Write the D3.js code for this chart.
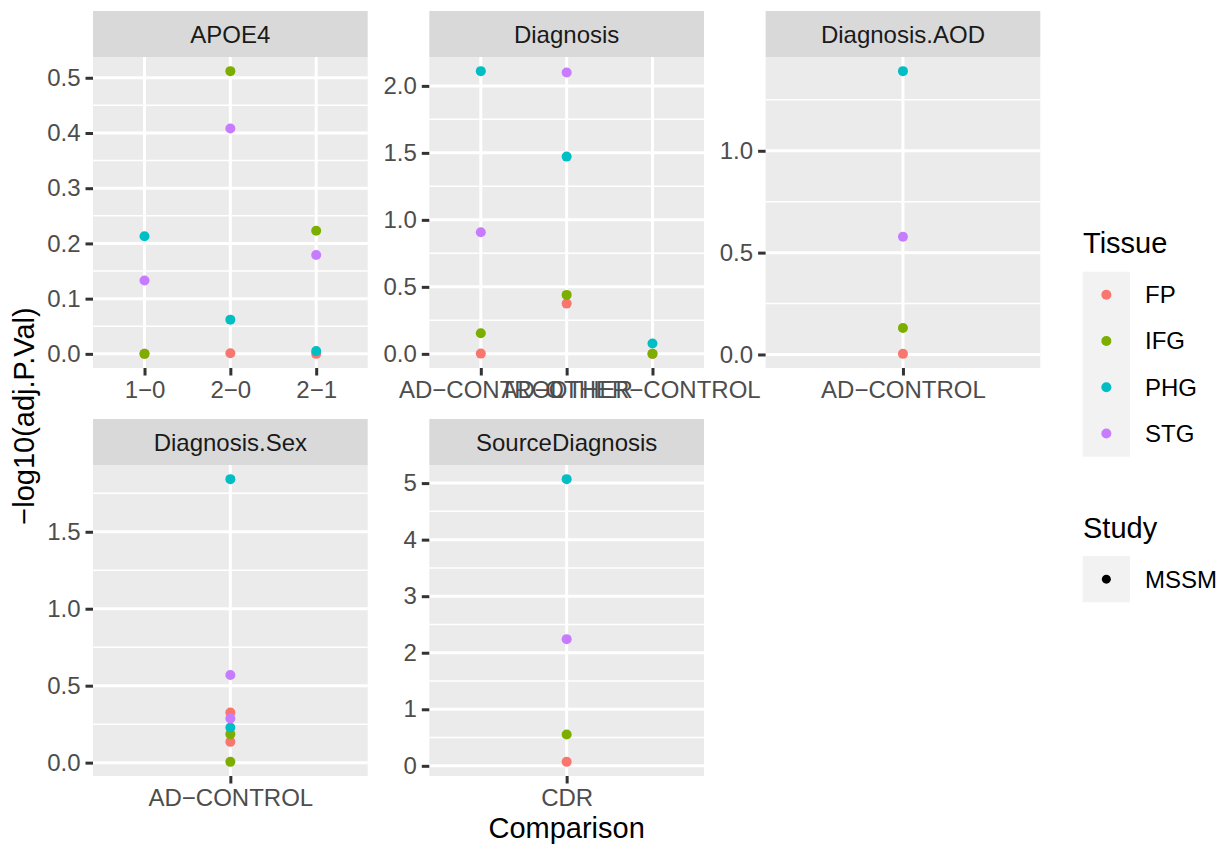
<!DOCTYPE html>
<html>
<head>
<meta charset="utf-8">
<script src="https://cdn.jsdelivr.net/npm/d3@7"></script>
<style>
  body { margin: 0; background: #fff; }
  svg { display: block; font-family: "Liberation Sans", Arial, sans-serif; }
</style>
</head>
<body>
<svg width="1221" height="844"></svg>
<script>
// tissues + colours (ggplot default hue palette)
const tissues = ['FP', 'IFG', 'PHG', 'STG'];
const tissueColors = ['#F8766D', '#7CAE00', '#00BFC4', '#C77CFF'];
const studies = ['MSSM'];

const facets = ['APOE4', 'Diagnosis', 'Diagnosis.AOD', 'Diagnosis.Sex', 'SourceDiagnosis'];

// comparisons per facet
const apoe4Comparisons = ['1−0', '2−0', '2−1'];
const diagnosisComparisons = ['AD−CONTROL', 'AD−OTHER', 'OTHER−CONTROL'];
const aodComparisons = ['AD−CONTROL'];
const sexComparisons = ['AD−CONTROL'];
const sourceComparisons = ['CDR'];

// y tick labels per facet
const apoe4Ticks = ['0.0', '0.1', '0.2', '0.3', '0.4', '0.5'];
const diagnosisTicks = ['0.0', '0.5', '1.0', '1.5', '2.0'];
const aodTicks = ['0.0', '0.5', '1.0'];
const sexTicks = ['0.0', '0.5', '1.0', '1.5'];
const sourceTicks = ['0', '1', '2', '3', '4', '5'];

// [comparison, tissue, -log10(adj.P.Val)]
const apoe4Points = [
    ['1−0', 'FP', 0.0], ['1−0', 'IFG', 0.0], ['1−0', 'PHG', 0.213], ['1−0', 'STG', 0.133],
    ['2−0', 'FP', 0.001], ['2−0', 'IFG', 0.512], ['2−0', 'PHG', 0.062], ['2−0', 'STG', 0.408],
    ['2−1', 'FP', 0.0], ['2−1', 'IFG', 0.223], ['2−1', 'PHG', 0.005], ['2−1', 'STG', 0.179],
];
const diagnosisPoints = [
    ['AD−CONTROL', 'FP', 0.002], ['AD−CONTROL', 'IFG', 0.154], ['AD−CONTROL', 'PHG', 2.11], ['AD−CONTROL', 'STG', 0.908],
    ['AD−OTHER', 'FP', 0.375], ['AD−OTHER', 'IFG', 0.44], ['AD−OTHER', 'PHG', 1.472], ['AD−OTHER', 'STG', 2.10],
    ['OTHER−CONTROL', 'FP', 0.0], ['OTHER−CONTROL', 'PHG', 0.077], ['OTHER−CONTROL', 'IFG', 0.0],
];
const aodPoints = [
    ['AD−CONTROL', 'FP', 0.003], ['AD−CONTROL', 'IFG', 0.13], ['AD−CONTROL', 'PHG', 1.391], ['AD−CONTROL', 'STG', 0.578],
];
const sexPoints = [
    ['AD−CONTROL', 'FP', 0.135], ['AD−CONTROL', 'IFG', 0.005], ['AD−CONTROL', 'PHG', 1.842], ['AD−CONTROL', 'STG', 0.569],
    ['AD−CONTROL', 'IFG', 0.185], ['AD−CONTROL', 'PHG', 0.228], ['AD−CONTROL', 'FP', 0.326], ['AD−CONTROL', 'STG', 0.287],
];
const sourcePoints = [
    ['CDR', 'FP', 0.07], ['CDR', 'IFG', 0.554], ['CDR', 'PHG', 5.07], ['CDR', 'STG', 2.24],
];

const facetComparisons = [apoe4Comparisons, diagnosisComparisons, aodComparisons, sexComparisons, sourceComparisons];
const facetTicks = [apoe4Ticks, diagnosisTicks, aodTicks, sexTicks, sourceTicks];
const facetPoints = [apoe4Points, diagnosisPoints, aodPoints, sexPoints, sourcePoints];

const svg = d3.select('svg');
const color = d3.scaleOrdinal().domain(tissues).range(tissueColors);

// layout
const panelW = 274.7, panelH = 311, stripH = 46;
const colLeft = [93, 429.3, 765.6];
const rowTop = [57, 465];
const tickFont = 24, titleFont = 29;

facets.forEach((name, i) => {
    const left = colLeft[i % 3];
    const top = rowTop[Math.floor(i / 3)];
    const pts = facetPoints[i];
    const ticks = facetTicks[i].map(Number);

    const ext = d3.extent(pts, (d) => d[2]);
    const pad = (ext[1] - ext[0]) * 0.05;
    const y = d3.scaleLinear().domain([ext[0] - pad, ext[1] + pad]).range([top + panelH, top]);
    const x = d3.scalePoint().domain(facetComparisons[i]).range([left, left + panelW]).padding(0.6);

    const g = svg.append('g');

    // panel background
    g.append('rect')
        .attr('x', left).attr('y', top)
        .attr('width', panelW).attr('height', panelH)
        .attr('fill', '#EBEBEB');

    // minor grid
    const step = ticks[1] - ticks[0];
    const minor = d3.range(ticks[0] - step / 2, ticks[ticks.length - 1] + step, step)
        .filter((v) => v > y.domain()[0] && v < y.domain()[1]);
    g.selectAll('.minor').data(minor).join('line')
        .attr('x1', left).attr('x2', left + panelW)
        .attr('y1', (d) => y(d)).attr('y2', (d) => y(d))
        .attr('stroke', '#fff').attr('stroke-width', 1.5);

    // major grid
    g.selectAll('.hmajor').data(ticks).join('line')
        .attr('x1', left).attr('x2', left + panelW)
        .attr('y1', (d) => y(d)).attr('y2', (d) => y(d))
        .attr('stroke', '#fff').attr('stroke-width', 3);
    g.selectAll('.vmajor').data(x.domain()).join('line')
        .attr('x1', (d) => x(d)).attr('x2', (d) => x(d))
        .attr('y1', top).attr('y2', top + panelH)
        .attr('stroke', '#fff').attr('stroke-width', 3);

    // strip
    g.append('rect')
        .attr('x', left).attr('y', top - stripH)
        .attr('width', panelW).attr('height', stripH)
        .attr('fill', '#D9D9D9');
    g.append('text')
        .attr('x', left + panelW / 2).attr('y', top - stripH / 2 + 8.5)
        .attr('text-anchor', 'middle')
        .attr('font-size', tickFont).attr('fill', '#1A1A1A')
        .text(name);

    // axes
    const yAxis = d3.axisLeft(y).tickValues(ticks)
        .tickFormat((d, k) => facetTicks[i][k]).tickSize(7.5).tickPadding(5);
    const ya = g.append('g').attr('transform', `translate(${left},0)`).call(yAxis);
    const xAxis = d3.axisBottom(x).tickSize(7.5).tickPadding(5);
    const xa = g.append('g').attr('transform', `translate(0,${top + panelH})`).call(xAxis);
    [ya, xa].forEach((a) => {
        a.select('.domain').remove();
        a.selectAll('.tick line').attr('stroke', '#333333').attr('stroke-width', 3);
        a.selectAll('.tick text')
            .attr('fill', '#4D4D4D')
            .attr('font-size', tickFont)
            .attr('font-family', '"Liberation Sans", Arial, sans-serif');
    });

    // points
    g.selectAll('.pt').data(pts).join('circle')
        .attr('cx', (d) => x(d[0]))
        .attr('cy', (d) => y(d[2]))
        .attr('r', 5)
        .attr('fill', (d) => color(d[1]));
});

// axis titles
svg.append('text')
    .attr('x', colLeft[0] + (colLeft[2] + panelW - colLeft[0]) / 2)
    .attr('y', 838)
    .attr('text-anchor', 'middle')
    .attr('font-size', titleFont)
    .text('Comparison');

svg.append('text')
    .attr('transform', 'translate(34,416) rotate(-90)')
    .attr('text-anchor', 'middle')
    .attr('font-size', titleFont)
    .text('−log10(adj.P.Val)');

// legends
const lg = svg.append('g');
const keyX = 1082.7, keyW = 47.3, keyH = 46.25;

lg.append('text').attr('x', 1083).attr('y', 253).attr('font-size', titleFont).text('Tissue');
lg.append('rect')
    .attr('x', keyX).attr('y', 271.7)
    .attr('width', keyW).attr('height', keyH * tissues.length)
    .attr('fill', '#F2F2F2');
tissues.forEach((t, k) => {
    const cy = 271.7 + keyH * k + keyH / 2;
    lg.append('circle').attr('cx', keyX + keyW / 2).attr('cy', cy).attr('r', 5).attr('fill', color(t));
    lg.append('text').attr('x', 1145).attr('y', cy + 8.4).attr('font-size', tickFont).text(t);
});

lg.append('text').attr('x', 1083).attr('y', 538).attr('font-size', titleFont).text('Study');
lg.append('rect')
    .attr('x', keyX).attr('y', 556)
    .attr('width', keyW).attr('height', keyH * studies.length)
    .attr('fill', '#F2F2F2');
studies.forEach((s, k) => {
    const cy = 556 + keyH * k + keyH / 2;
    lg.append('circle').attr('cx', keyX + keyW / 2).attr('cy', cy).attr('r', 4.5).attr('fill', '#000');
    lg.append('text').attr('x', 1145).attr('y', cy + 8.4).attr('font-size', tickFont).text(s);
});
</script>
</body>
</html>
